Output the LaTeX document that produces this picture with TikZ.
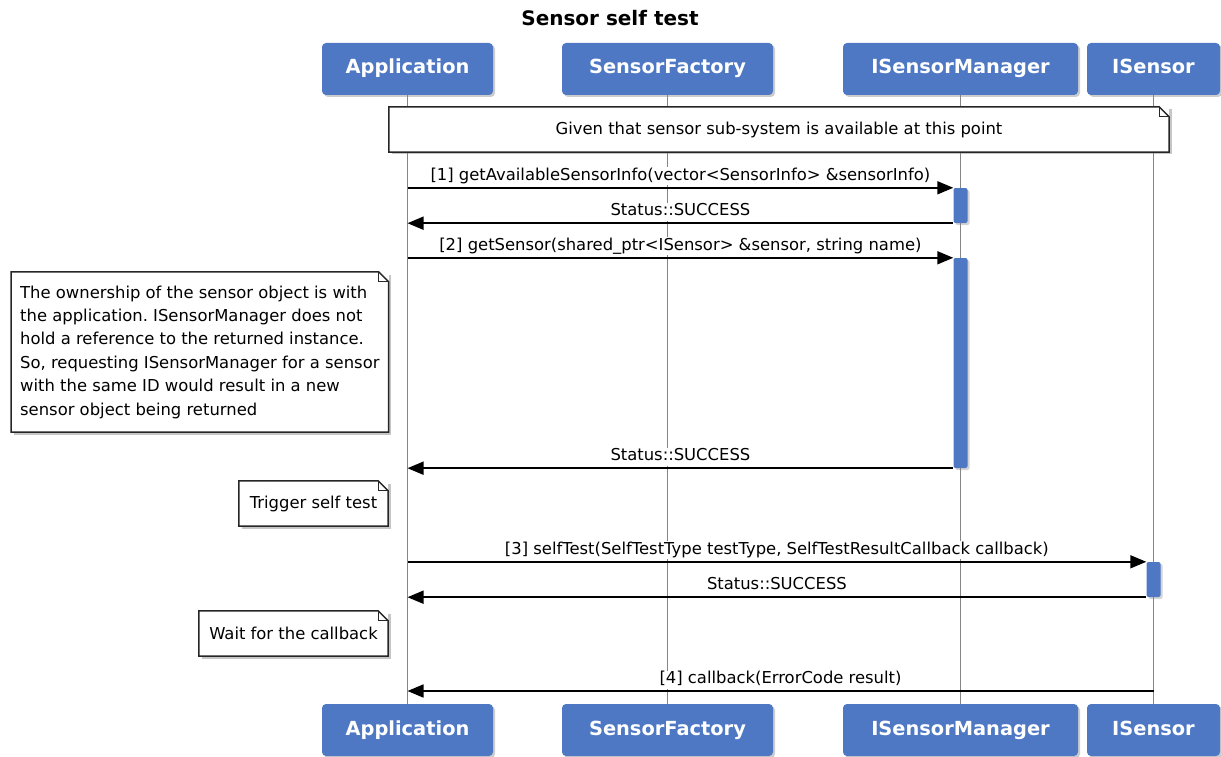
\documentclass[tikz,border=0pt]{standalone}
\usepackage{fontspec}
\setmainfont{DejaVu Sans}
\usetikzlibrary{positioning,shadows,arrows.meta}
\definecolor{partyblue}{HTML}{4E78C4}
\definecolor{lifegray}{HTML}{858585}
\frenchspacing
\tikzset{
  party/.style={rectangle, rounded corners=4pt, fill=partyblue, text=white, minimum height=52, inner sep=0pt,
    text height=14pt, text depth=4pt, font=\bfseries\fontsize{19.4}{22}\selectfont,
    drop shadow={shadow xshift=2pt, shadow yshift=-2pt, opacity=0.4}},
  lifeline/.style={draw=lifegray, line width=1.6pt},
  actbar/.style={rectangle, rounded corners=2pt, fill=partyblue, minimum width=14, inner sep=0pt,
    drop shadow={shadow xshift=2pt, shadow yshift=-2pt, opacity=0.35}},
  msg/.style={line width=1.7pt, -{Triangle[length=16pt,width=13pt]}},
  ret/.style={line width=1.7pt, {Triangle[length=16pt,width=13pt]}-},
  lbl/.style={above, inner sep=0pt, yshift=1.5pt, fill=white, text height=13pt, text depth=5pt,
    font=\fontsize{16.4}{19}\selectfont},
  notebox/.style={fill=white, inner xsep=9pt, inner ysep=0pt, font=\fontsize{16.4}{23.4}\selectfont,
    drop shadow={shadow xshift=2.5pt, shadow yshift=-2.5pt, opacity=0.45}},
  notebd/.style={draw=black!85, line width=1.5pt},
}
% note outline with folded corner
\newcommand{\notefold}[1]{%
  \draw[notebd] (#1.north west) -- ([xshift=-10pt]#1.north east) -- ([yshift=-10pt]#1.north east)
    -- (#1.south east) -- (#1.south west) -- cycle;
  \draw[notebd, line width=0.9pt] ([xshift=-10pt]#1.north east) |- ([yshift=-10pt]#1.north east);
}
\begin{document}
\begin{tikzpicture}[x=1pt, y=-1pt]
  \useasboundingbox (0,0) rectangle (1221,757);
  % Title
  \node[font=\bfseries\fontsize{20}{24}\selectfont] (title) at (610,18) {Sensor self test};
  % Participants (top)
  \node[party, minimum width=171] (apptop) at (407.5,69) {Application};
  \node[party, minimum width=211] (factop) at (667.5,69) {SensorFactory};
  \node[party, minimum width=235] (mgrtop) at (960.5,69) {ISensorManager};
  \node[party, minimum width=133] (sentop) at (1153.5,69) {ISensor};
  % Participants (bottom)
  \node[party, minimum width=171] (appbot) at (407.5,730) {Application};
  \node[party, minimum width=211] (facbot) at (667.5,730) {SensorFactory};
  \node[party, minimum width=235] (mgrbot) at (960.5,730) {ISensorManager};
  \node[party, minimum width=133] (senbot) at (1153.5,730) {ISensor};
  % Lifelines
  \draw[lifeline] (apptop.south) -- (appbot.north);
  \draw[lifeline] (factop.south) -- (facbot.north);
  \draw[lifeline] (mgrtop.south) -- (mgrbot.north);
  \draw[lifeline] (sentop.south) -- (senbot.north);
  % Activation bars
  \node[actbar, minimum height=35] (act1) at (mgrtop |- 0,205.5) {};
  \node[actbar, minimum height=210] (act2) at (mgrtop |- 0,363) {};
  \node[actbar, minimum height=35] (act3) at (sentop |- 0,579.5) {};
  % Notes
  \node[notebox, minimum width=780, minimum height=45] (given) at (779,129.5)
    {Given that sensor sub-system is available at this point};
  \notefold{given}
  \node[notebox, align=left, minimum width=377, minimum height=160, anchor=west] (owner) at (11,352)
    {The ownership of the sensor object is with\\
     the application. ISensorManager does not\\
     hold a reference to the returned instance.\\
     So, requesting ISensorManager for a sensor\\
     with the same ID would result in a new\\
     sensor object being returned};
  \notefold{owner}
  \node[notebox, minimum width=149, minimum height=45] (trig) at (313.5,503.5) {Trigger self test};
  \notefold{trig}
  \node[notebox, minimum width=189, minimum height=45] (wait) at (293.5,633.5) {Wait for the callback};
  \notefold{wait}
  % Messages
  \draw[msg] (apptop |- act1.north) -- (act1.north west)
    node[lbl, midway] {[1] getAvailableSensorInfo(vector<SensorInfo> \&sensorInfo)};
  \draw[ret] (apptop |- act1.south) -- (act1.south west)
    node[lbl, midway] {Status::SUCCESS};
  \draw[msg] (apptop |- act2.north) -- (act2.north west)
    node[lbl, midway] {[2] getSensor(shared\_ptr<ISensor> \&sensor, string name)};
  \draw[ret] (apptop |- act2.south) -- (act2.south west)
    node[lbl, midway] {Status::SUCCESS};
  \draw[msg] (apptop |- act3.north) -- (act3.north west)
    node[lbl, midway] {[3] selfTest(SelfTestType testType, SelfTestResultCallback callback)};
  \draw[ret] (apptop |- act3.south) -- (act3.south west)
    node[lbl, midway] {Status::SUCCESS};
  \coordinate (cb) at (sentop |- 0,691);
  \draw[ret] (apptop |- cb) -- (cb)
    node[lbl, midway] {[4] callback(ErrorCode result)};
\end{tikzpicture}
\end{document}
